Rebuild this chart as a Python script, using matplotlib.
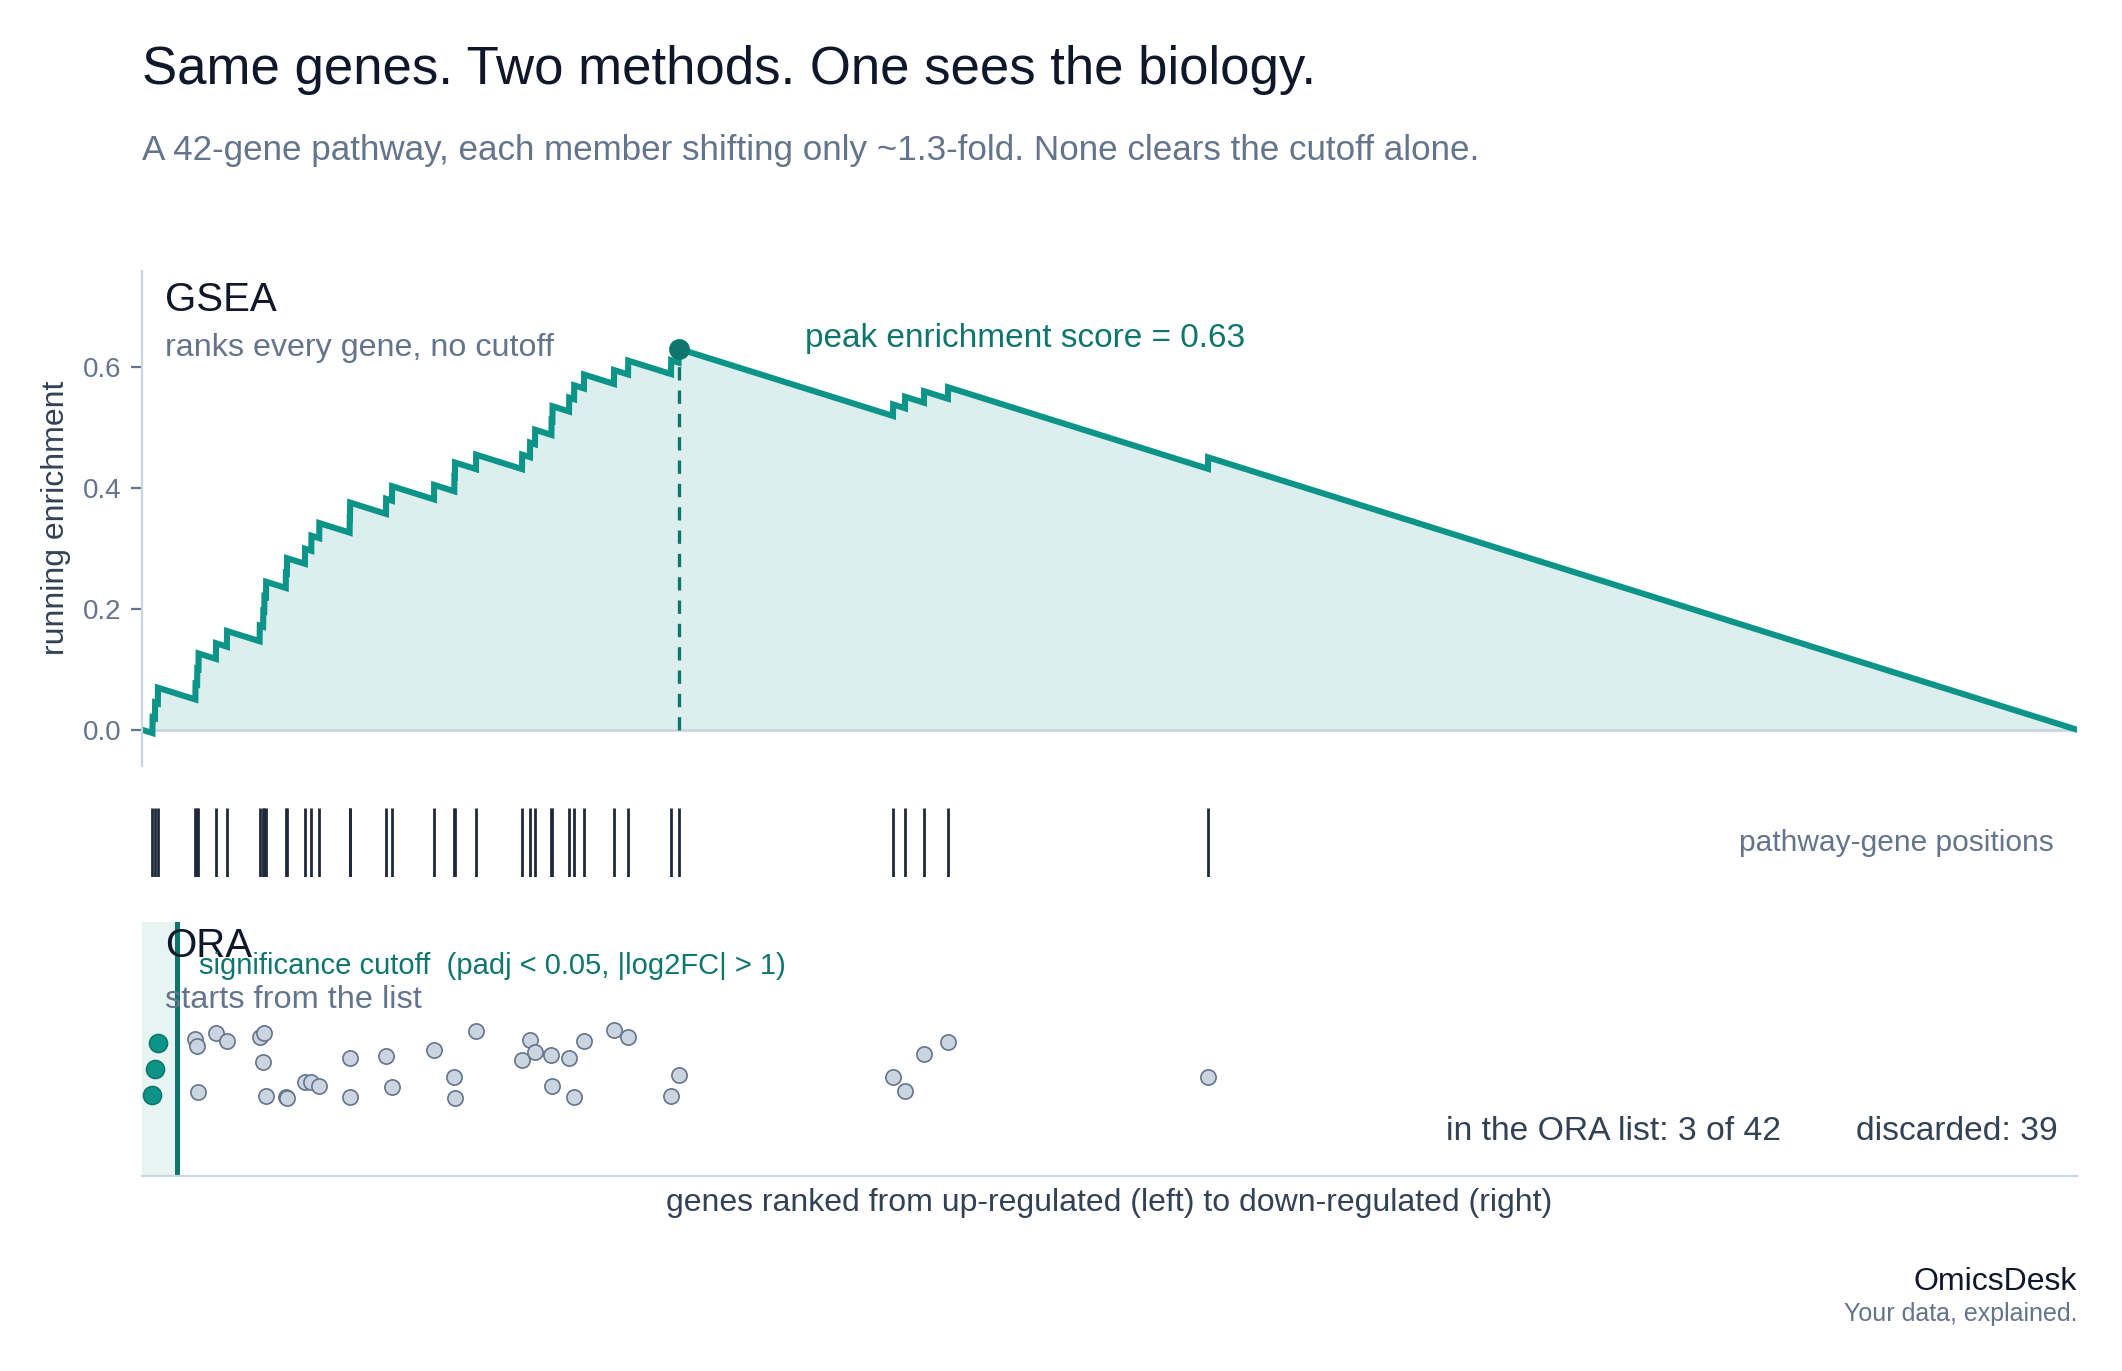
import numpy as np
import matplotlib.pyplot as plt

plt.rcParams['font.family'] = ['Liberation Sans', 'DejaVu Sans']

# ---- data ----
n_genes = 10000
hit_ranks = [54, 67, 82, 276, 285, 292, 382, 439, 608, 626,
             632, 641, 743, 749, 842, 875, 916, 1073, 1075, 1261,
             1292, 1509, 1614, 1617, 1726, 1964, 2005, 2031, 2116, 2121,
             2207, 2233, 2284, 2439, 2512, 2734, 2773, 3881, 3943, 4041,
             4165, 5509]
# step height of each hit in the running score (relative, normalised below)
hit_step = [0.026, 0.026, 0.026, 0.026, 0.026, 0.026, 0.026, 0.026, 0.026, 0.026,
            0.025, 0.025, 0.025, 0.025, 0.025, 0.025, 0.025, 0.025, 0.025, 0.025,
            0.024, 0.024, 0.024, 0.024, 0.024, 0.024, 0.024, 0.024, 0.024, 0.024,
            0.023, 0.023, 0.023, 0.023, 0.023, 0.023, 0.023, 0.019, 0.019, 0.019,
            0.019, 0.019]
# vertical jitter of the ORA dots
ora_y = [0.320, 0.420, 0.521, 0.537, 0.511, 0.331, 0.561, 0.531, 0.548, 0.449,
         0.561, 0.314, 0.312, 0.305, 0.371, 0.371, 0.354, 0.463, 0.309, 0.472,
         0.349, 0.495, 0.388, 0.305, 0.570, 0.456, 0.535, 0.486, 0.474, 0.354,
         0.463, 0.309, 0.531, 0.573, 0.545, 0.314, 0.396, 0.390, 0.334, 0.478,
         0.528, 0.388]
n_in_list = 3
cutoff_rank = 180

# ---- colours ----
TEAL = "#0d9488"
TEAL_DARK = "#0f766e"
INK = "#0f172a"
SLATE = "#64748b"
SLATE_DARK = "#334155"
GRID = "#cbd5e1"

# ---- running enrichment score ----
w = np.array(hit_step) / np.sum(hit_step)
step = np.full(n_genes, -1.0 / (n_genes - len(hit_ranks)))
step[hit_ranks] = w
es = np.concatenate([[0.0], np.cumsum(step)])
xs = np.arange(n_genes + 1)
ipk = int(np.argmax(es))

fig = plt.figure(figsize=(10.61, 6.855), dpi=200)
L, W = 0.0669, 0.9119

# ===================== GSEA panel =====================
ax = fig.add_axes([L, 0.4413, W, 0.3613])
ax.fill_between(xs, es, 0, color=TEAL, alpha=0.14, lw=0)
ax.plot(xs, es, color=TEAL, lw=2.2, solid_joinstyle="miter")
ax.axhline(0, color=GRID, lw=1.0, zorder=1)
ax.vlines(xs[ipk], 0, es[ipk], color=TEAL_DARK, lw=1.2, linestyles=(0, (4, 3)))
ax.plot(xs[ipk], es[ipk], "o", color=TEAL_DARK, ms=6.5, zorder=5)
ax.text(3426, 0.633, "peak enrichment score = 0.63", color=TEAL_DARK, fontsize=12, va="baseline")
ax.set_xlim(0, n_genes)
ax.set_ylim(-0.06, 0.76)
ax.set_yticks([0.0, 0.2, 0.4, 0.6])
ax.set_yticklabels(["0.0", "0.2", "0.4", "0.6"])
ax.set_xticks([])
for s in ["top", "right", "bottom"]:
    ax.spines[s].set_visible(False)
ax.spines["left"].set_color(GRID)
ax.tick_params(axis="y", colors=SLATE, labelsize=10, length=4, width=0.8)
ax.set_ylabel("running enrichment", color=SLATE_DARK, fontsize=11.5)
ax.text(0.0119, 0.918, "GSEA", transform=ax.transAxes, color=INK, fontsize=14.5, va="baseline")
ax.text(0.0119, 0.828, "ranks every gene, no cutoff", transform=ax.transAxes,
        color=SLATE, fontsize=11.6, va="baseline")

# ===================== rug panel =====================
rug = fig.add_axes([L, 0.3603, W, 0.0503])
rug.vlines(hit_ranks, 0, 1, color="#1e293b", lw=1.0)
rug.set_xlim(0, n_genes)
rug.set_ylim(0, 1)
rug.axis("off")
rug.text(0.988, 0.49, "pathway-gene positions", transform=rug.transAxes,
         color=SLATE, fontsize=10.75, ha="right", va="center")

# ===================== ORA panel =====================
ora = fig.add_axes([L, 0.1422, W, 0.1856])
ora.axvspan(0, cutoff_rank, color=TEAL, alpha=0.1, lw=0)
ora.axvline(cutoff_rank, color=TEAL_DARK, lw=1.8)
ora.scatter(hit_ranks[n_in_list:], ora_y[n_in_list:], s=30, color="#cbd5e1",
            edgecolor=SLATE, linewidth=0.6, zorder=3)
ora.scatter(hit_ranks[:n_in_list], ora_y[:n_in_list], s=42, color=TEAL,
            edgecolor=TEAL_DARK, linewidth=0.6, zorder=4)
ora.set_xlim(0, n_genes)
ora.set_ylim(0, 1)
ora.set_xticks([])
ora.set_yticks([])
for s in ["top", "right", "left"]:
    ora.spines[s].set_visible(False)
ora.spines["bottom"].set_color(GRID)
ora.text(0.0119, 0.861, "ORA", transform=ora.transAxes, color=INK, fontsize=14.5, va="baseline")
ora.text(0.0119, 0.660, "starts from the list", transform=ora.transAxes,
         color=SLATE, fontsize=11.7, va="baseline")
ora.text(0.0295, 0.794, "significance cutoff  (padj < 0.05, |log2FC| > 1)",
         transform=ora.transAxes, color=TEAL_DARK, fontsize=10.5, va="baseline")
ora.text(0.847, 0.143, f"in the ORA list: {n_in_list} of {len(hit_ranks)}",
         transform=ora.transAxes, color=SLATE_DARK, fontsize=12.1, ha="right", va="baseline")
ora.text(0.990, 0.143, f"discarded: {len(hit_ranks) - n_in_list}",
         transform=ora.transAxes, color=SLATE_DARK, fontsize=12.1, ha="right", va="baseline")

# ===================== titles and footer =====================
fig.text(L, 0.9387, "Same genes. Two methods. One sees the biology.", color=INK,
         fontsize=19, va="baseline")
fig.text(L, 0.8833, "A 42-gene pathway, each member shifting only ~1.3-fold. None clears the cutoff alone.",
         color=SLATE, fontsize=12.6, va="baseline")
fig.text(0.5229, 0.1167, "genes ranked from up-regulated (left) to down-regulated (right)",
         color=SLATE_DARK, fontsize=11.5, ha="center", va="baseline")
fig.text(0.9788, 0.0591, "OmicsDesk", color=INK, fontsize=11.5, ha="right", va="baseline")
fig.text(0.9788, 0.0365, "Your data, explained.", color=SLATE, fontsize=9, ha="right", va="baseline")

fig.savefig("out.png", dpi=200, facecolor="white")
